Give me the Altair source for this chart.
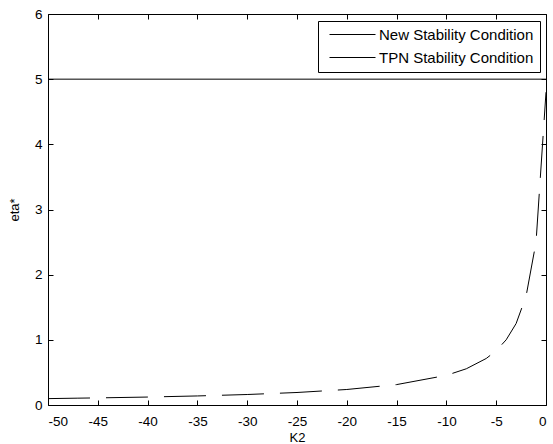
import altair as alt
import pandas as pd

# Data
k2_values = [-50, -47, -45, -40, -35, -30, -25, -20, -15, -10, -8, -6, -5, -4, -3, -2, -1, 0]
eta_values = [0.098, 0.105, 0.109, 0.122, 0.139, 0.161, 0.192, 0.238, 0.313, 0.455,
              0.556, 0.714, 0.833, 1.0, 1.25, 1.67, 2.5, 4.8]
tpn_k2 = [-50, 0]
tpn_eta = [5, 5]
series_names = ["New Stability Condition", "TPN Stability Condition"]
x_ticks = [-50, -45, -40, -35, -30, -25, -20, -15, -10, -5, 0]
y_ticks = [0, 1, 2, 3, 4, 5, 6]

df_curve = pd.DataFrame({"k2": k2_values, "eta": eta_values, "series": series_names[0]})
df_tpn = pd.DataFrame({"k2": tpn_k2, "eta": tpn_eta, "series": series_names[1]})

FONT = "Liberation Sans"
xs = alt.Scale(domain=[-50, 0], nice=False, zero=False)
ys = alt.Scale(domain=[0, 6], nice=False)

x_bottom = alt.Axis(orient="bottom", values=x_ticks, offset=-5, tickSize=5, domain=False,
                    labelPadding=9, title="K2", titlePadding=4, grid=False,
                    labelExpr="toString(datum.value)")
x_top = alt.Axis(orient="top", values=x_ticks, offset=-5, tickSize=5, domain=False,
                 labels=False, title=None, grid=False)
y_left = alt.Axis(orient="left", values=y_ticks, offset=-5, tickSize=5, domain=False,
                  labelPadding=6, title="eta*", titlePadding=13, grid=False,
                  labelExpr="toString(datum.value)")
y_right = alt.Axis(orient="right", values=y_ticks, offset=-5, tickSize=5, domain=False,
                   labels=False, title=None, grid=False)

legend = alt.Legend(
    orient="none", legendX=270, legendY=7, title=None,
    symbolType="M-0.4,0H8.8", symbolSize=100, symbolStrokeWidth=1,
    symbolStrokeColor="black", symbolFillColor="transparent",
    labelFont=FONT, labelFontSize=15, labelColor="black", labelOffset=40,
    padding=6, rowPadding=7, strokeColor="black", fillColor="white",
    symbolDash=[1000, 0],
)
color = alt.Color("series:N", scale=alt.Scale(domain=series_names, range=["black", "black"]),
                  legend=legend)

curve = alt.Chart(df_curve).mark_line(strokeDash=[42, 16], strokeWidth=1).encode(
    x=alt.X("k2:Q", scale=xs, axis=x_bottom),
    y=alt.Y("eta:Q", scale=ys, axis=y_left),
    color=color,
)

tpn = alt.Chart(df_tpn).mark_line(strokeWidth=1, color="#222222").encode(
    x=alt.X("k2:Q", scale=xs, axis=x_top),
    y=alt.Y("eta:Q", scale=ys, axis=y_right),
    color=color,
)

chart = alt.layer(curve, tpn).resolve_axis(x="independent", y="independent").properties(
    width=498, height=391,
    padding={"left": 48, "top": 14, "right": 7, "bottom": 39},
    autosize=alt.AutoSizeParams(type="none"),
    background="white",
).configure_view(stroke="black", strokeWidth=1).configure_axis(
    labelFont=FONT, labelFontSize=13.5, labelColor="black", tickColor="black",
    titleFont=FONT, titleFontSize=13, titleFontWeight="normal", titleColor="black",
)

chart.save("out.html", embed_options={"renderer": "svg", "actions": False})
